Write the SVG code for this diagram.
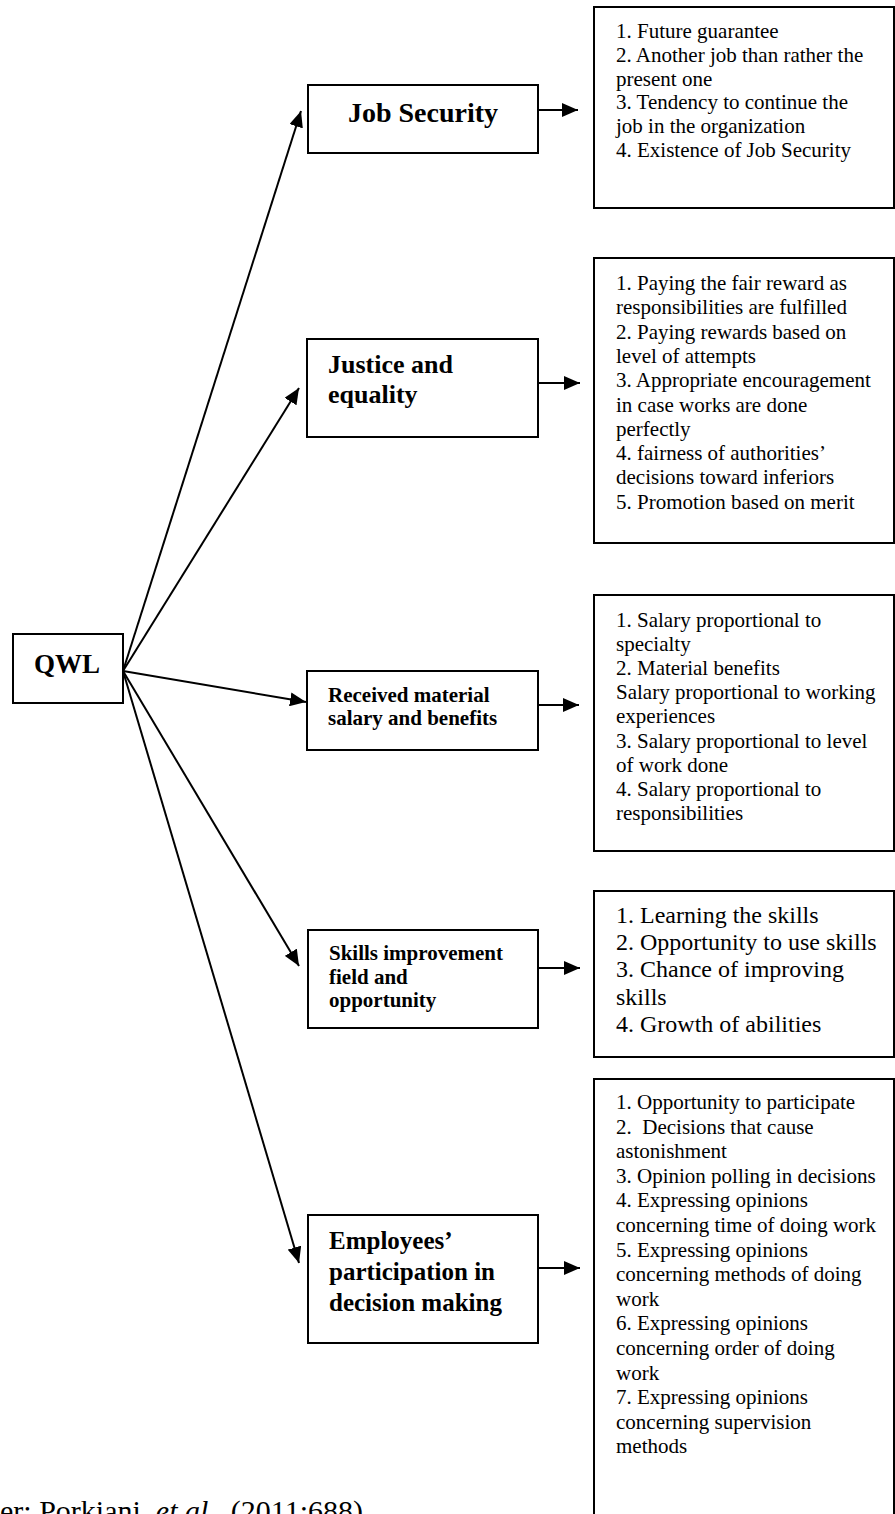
<svg xmlns="http://www.w3.org/2000/svg" width="895" height="1514" viewBox="0 0 895 1514">
<style>
  .box { fill: #ffffff; stroke: #000000; stroke-width: 2; }
  .lbl { font-family: "Liberation Serif", "Times New Roman", serif; font-weight: bold; fill: #000000; }
  .lst { font-family: "Liberation Serif", "Times New Roman", serif; font-size: 21px; fill: #000000; }
  .conn { stroke: #000000; stroke-width: 2; fill: none; marker-end: url(#arr); }
</style>
<defs>
  <marker id="arr" markerUnits="userSpaceOnUse" markerWidth="16" markerHeight="14" viewBox="0 0 16 14" refX="16" refY="7" orient="auto">
    <path d="M0,0 L16,7 L0,14 Z" fill="#000000"/>
  </marker>
</defs>
<rect width="895" height="1514" fill="#ffffff"/>

<g id="connectors">
  <line class="conn" x1="123" y1="671" x2="301" y2="111"/>
  <line class="conn" x1="123" y1="671" x2="299" y2="388"/>
  <line class="conn" x1="123" y1="671" x2="306" y2="702"/>
  <line class="conn" x1="123" y1="671" x2="299" y2="966"/>
  <line class="conn" x1="123" y1="671" x2="299" y2="1263"/>
  <line class="conn" x1="538" y1="110" x2="578" y2="110"/>
  <line class="conn" x1="538" y1="383" x2="580" y2="383"/>
  <line class="conn" x1="538" y1="705" x2="579" y2="705"/>
  <line class="conn" x1="538" y1="968" x2="580" y2="968"/>
  <line class="conn" x1="538" y1="1268" x2="580" y2="1268"/>
</g>

<g id="qwl">
  <rect class="box" x="13" y="634" width="110" height="69"/>
  <text class="lbl" x="67" y="673" font-size="27" text-anchor="middle">QWL</text>
</g>

<g id="job-security">
  <rect class="box" x="308" y="85" width="230" height="68"/>
  <text class="lbl" x="423" y="122" font-size="28" text-anchor="middle">Job Security</text>
</g>

<g id="justice">
  <rect class="box" x="307" y="339" width="231" height="98"/>
  <text class="lbl" font-size="26"><tspan x="328" y="373">Justice and</tspan><tspan x="328" y="403">equality</tspan></text>
</g>

<g id="salary">
  <rect class="box" x="307" y="671" width="231" height="79"/>
  <text class="lbl" font-size="21"><tspan x="328" y="702">Received material</tspan><tspan x="328" y="725">salary and benefits</tspan></text>
</g>

<g id="skills">
  <rect class="box" x="308" y="930" width="230" height="98"/>
  <text class="lbl" font-size="21"><tspan x="329" y="960">Skills improvement</tspan><tspan x="329" y="983.5">field and</tspan><tspan x="329" y="1007">opportunity</tspan></text>
</g>

<g id="participation">
  <rect class="box" x="308" y="1215" width="230" height="128"/>
  <text class="lbl" font-size="25"><tspan x="329" y="1249">Employees’</tspan><tspan x="329" y="1280">participation in</tspan><tspan x="329" y="1311">decision making</tspan></text>
</g>

<g id="list-job-security">
  <rect class="box" x="594" y="7" width="300" height="201"/>
  <text class="lst">
    <tspan x="616" y="38">1. Future guarantee</tspan>
    <tspan x="616" y="61.8">2. Another job than rather the</tspan>
    <tspan x="616" y="85.6">present one</tspan>
    <tspan x="616" y="109.4">3. Tendency to continue the</tspan>
    <tspan x="616" y="133.2">job in the organization</tspan>
    <tspan x="616" y="157">4. Existence of Job Security</tspan>
  </text>
</g>

<g id="list-justice">
  <rect class="box" x="594" y="258" width="300" height="285"/>
  <text class="lst">
    <tspan x="616" y="290">1. Paying the fair reward as</tspan>
    <tspan x="616" y="314.3">responsibilities are fulfilled</tspan>
    <tspan x="616" y="338.6">2. Paying rewards based on</tspan>
    <tspan x="616" y="362.9">level of attempts</tspan>
    <tspan x="616" y="387.2">3. Appropriate encouragement</tspan>
    <tspan x="616" y="411.5">in case works are done</tspan>
    <tspan x="616" y="435.8">perfectly</tspan>
    <tspan x="616" y="460.1">4. fairness of authorities’</tspan>
    <tspan x="616" y="484.4">decisions toward inferiors</tspan>
    <tspan x="616" y="508.7">5. Promotion based on merit</tspan>
  </text>
</g>

<g id="list-salary">
  <rect class="box" x="594" y="595" width="300" height="256"/>
  <text class="lst">
    <tspan x="616" y="627">1. Salary proportional to</tspan>
    <tspan x="616" y="651.1">specialty</tspan>
    <tspan x="616" y="675.2">2. Material benefits</tspan>
    <tspan x="616" y="699.3">Salary proportional to working</tspan>
    <tspan x="616" y="723.4">experiences</tspan>
    <tspan x="616" y="747.5">3. Salary proportional to level</tspan>
    <tspan x="616" y="771.6">of work done</tspan>
    <tspan x="616" y="795.7">4. Salary proportional to</tspan>
    <tspan x="616" y="819.8">responsibilities</tspan>
  </text>
</g>

<g id="list-skills">
  <rect class="box" x="594" y="891" width="300" height="166"/>
  <text class="lst" style="font-size:24px">
    <tspan x="616" y="923">1. Learning the skills</tspan>
    <tspan x="616" y="950.2">2. Opportunity to use skills</tspan>
    <tspan x="616" y="977.4">3. Chance of improving</tspan>
    <tspan x="616" y="1004.6">skills</tspan>
    <tspan x="616" y="1031.8">4. Growth of abilities</tspan>
  </text>
</g>

<g id="list-participation">
  <rect class="box" x="594" y="1079" width="300" height="450"/>
  <text class="lst" style="white-space:pre">
    <tspan x="616" y="1109">1. Opportunity to participate</tspan>
    <tspan x="616" y="1133.6">2.  Decisions that cause</tspan>
    <tspan x="616" y="1158.2">astonishment</tspan>
    <tspan x="616" y="1182.8">3. Opinion polling in decisions</tspan>
    <tspan x="616" y="1207.4">4. Expressing opinions</tspan>
    <tspan x="616" y="1232">concerning time of doing work</tspan>
    <tspan x="616" y="1256.6">5. Expressing opinions</tspan>
    <tspan x="616" y="1281.2">concerning methods of doing</tspan>
    <tspan x="616" y="1305.8">work</tspan>
    <tspan x="616" y="1330.4">6. Expressing opinions</tspan>
    <tspan x="616" y="1355">concerning order of doing</tspan>
    <tspan x="616" y="1379.6">work</tspan>
    <tspan x="616" y="1404.2">7. Expressing opinions</tspan>
    <tspan x="616" y="1428.8">concerning supervision</tspan>
    <tspan x="616" y="1453.4">methods</tspan>
  </text>
</g>

<g id="caption">
  <text x="0" y="1521" font-family="Liberation Serif, Times New Roman, serif" font-size="30" fill="#000000">er: Porkiani, <tspan font-style="italic">et al.,</tspan> (2011:688)</text>
</g>
</svg>
